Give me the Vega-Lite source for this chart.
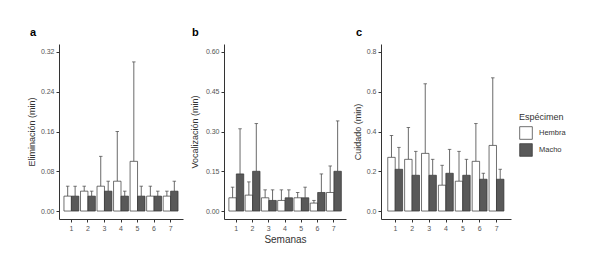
{
  "$schema": "https://vega.github.io/schema/vega-lite/v6.json",
  "autosize": {"type": "pad"},
  "padding": {"left": 27, "top": 27, "right": 0, "bottom": 0},
  "background": "white",
  "config": {
    "view": {"stroke": null},
    "font": "Liberation Sans",
    "axis": {
      "grid": false,
      "domainColor": "#333333",
      "domainWidth": 1,
      "tickColor": "#333333",
      "tickSize": 3,
      "labelFontSize": 7,
      "labelColor": "#555555",
      "labelPadding": 2,
      "titleFontSize": 9,
      "titleFontWeight": "normal",
      "titleColor": "#333333"
    },
    "title": {"fontSize": 11, "fontWeight": "bold", "color": "#000000", "anchor": "start", "frame": "group", "offset": 6}
  },
  "datasets": {
    "d": [
      {"panel": "a", "semana": "1", "especimen": "Hembra", "media": 0.03, "sup": 0.05},
      {"panel": "a", "semana": "1", "especimen": "Macho", "media": 0.03, "sup": 0.05},
      {"panel": "a", "semana": "2", "especimen": "Hembra", "media": 0.04, "sup": 0.05},
      {"panel": "a", "semana": "2", "especimen": "Macho", "media": 0.03, "sup": 0.04},
      {"panel": "a", "semana": "3", "especimen": "Hembra", "media": 0.05, "sup": 0.11},
      {"panel": "a", "semana": "3", "especimen": "Macho", "media": 0.04, "sup": 0.06},
      {"panel": "a", "semana": "4", "especimen": "Hembra", "media": 0.06, "sup": 0.16},
      {"panel": "a", "semana": "4", "especimen": "Macho", "media": 0.03, "sup": 0.04},
      {"panel": "a", "semana": "5", "especimen": "Hembra", "media": 0.10, "sup": 0.30},
      {"panel": "a", "semana": "5", "especimen": "Macho", "media": 0.03, "sup": 0.05},
      {"panel": "a", "semana": "6", "especimen": "Hembra", "media": 0.03, "sup": 0.05},
      {"panel": "a", "semana": "6", "especimen": "Macho", "media": 0.03, "sup": 0.04},
      {"panel": "a", "semana": "7", "especimen": "Hembra", "media": 0.03, "sup": 0.04},
      {"panel": "a", "semana": "7", "especimen": "Macho", "media": 0.04, "sup": 0.06},
      {"panel": "b", "semana": "1", "especimen": "Hembra", "media": 0.05, "sup": 0.09},
      {"panel": "b", "semana": "1", "especimen": "Macho", "media": 0.14, "sup": 0.31},
      {"panel": "b", "semana": "2", "especimen": "Hembra", "media": 0.06, "sup": 0.11},
      {"panel": "b", "semana": "2", "especimen": "Macho", "media": 0.15, "sup": 0.33},
      {"panel": "b", "semana": "3", "especimen": "Hembra", "media": 0.05, "sup": 0.08},
      {"panel": "b", "semana": "3", "especimen": "Macho", "media": 0.04, "sup": 0.08},
      {"panel": "b", "semana": "4", "especimen": "Hembra", "media": 0.04, "sup": 0.08},
      {"panel": "b", "semana": "4", "especimen": "Macho", "media": 0.05, "sup": 0.08},
      {"panel": "b", "semana": "5", "especimen": "Hembra", "media": 0.05, "sup": 0.07},
      {"panel": "b", "semana": "5", "especimen": "Macho", "media": 0.05, "sup": 0.09},
      {"panel": "b", "semana": "6", "especimen": "Hembra", "media": 0.03, "sup": 0.04},
      {"panel": "b", "semana": "6", "especimen": "Macho", "media": 0.07, "sup": 0.14},
      {"panel": "b", "semana": "7", "especimen": "Hembra", "media": 0.07, "sup": 0.17},
      {"panel": "b", "semana": "7", "especimen": "Macho", "media": 0.15, "sup": 0.34},
      {"panel": "c", "semana": "1", "especimen": "Hembra", "media": 0.27, "sup": 0.38},
      {"panel": "c", "semana": "1", "especimen": "Macho", "media": 0.21, "sup": 0.32},
      {"panel": "c", "semana": "2", "especimen": "Hembra", "media": 0.26, "sup": 0.42},
      {"panel": "c", "semana": "2", "especimen": "Macho", "media": 0.18, "sup": 0.30},
      {"panel": "c", "semana": "3", "especimen": "Hembra", "media": 0.29, "sup": 0.64},
      {"panel": "c", "semana": "3", "especimen": "Macho", "media": 0.18, "sup": 0.26},
      {"panel": "c", "semana": "4", "especimen": "Hembra", "media": 0.13, "sup": 0.23},
      {"panel": "c", "semana": "4", "especimen": "Macho", "media": 0.19, "sup": 0.31},
      {"panel": "c", "semana": "5", "especimen": "Hembra", "media": 0.15, "sup": 0.30},
      {"panel": "c", "semana": "5", "especimen": "Macho", "media": 0.18, "sup": 0.26},
      {"panel": "c", "semana": "6", "especimen": "Hembra", "media": 0.25, "sup": 0.44},
      {"panel": "c", "semana": "6", "especimen": "Macho", "media": 0.16, "sup": 0.19},
      {"panel": "c", "semana": "7", "especimen": "Hembra", "media": 0.33, "sup": 0.67},
      {"panel": "c", "semana": "7", "especimen": "Macho", "media": 0.16, "sup": 0.21}
    ]
  },
  "bounds": "flush",
  "spacing": 0,
  "hconcat": [
    {
      "width": 124, "height": 175,
      "title": {"text": "a", "dx": -29},
      "data": {"name": "d"},
      "transform": [{"filter": "datum.panel == 'a'"}],
      "encoding": {
        "x": {"field": "semana", "type": "ordinal", "scale": {"paddingInner": 0.1, "paddingOuter": 0.3}, "axis": {"labelAngle": 0, "title": null}},
        "xOffset": {"field": "especimen", "type": "nominal", "scale": {"paddingInner": 0, "paddingOuter": 0}}
      },
      "layer": [
        {"mark": {"type": "rule", "color": "#444444", "strokeWidth": 0.8},
         "encoding": {"y": {"field": "media", "type": "quantitative"}, "y2": {"field": "sup"}}},
        {"mark": {"type": "bar", "stroke": "#333333", "strokeWidth": 0.7},
         "encoding": {
           "y": {"field": "media", "type": "quantitative", "scale": {"domain": [-0.016, 0.336], "nice": false, "zero": false}, "axis": {"values": [0, 0.08, 0.16, 0.24, 0.32], "format": ".2f", "title": "Eliminación (min)", "titlePadding": 4}},
           "fill": {"field": "especimen", "type": "nominal", "scale": {"domain": ["Hembra", "Macho"], "range": ["#ffffff", "#595959"]},
             "legend": {"title": "Espécimen", "orient": "none", "legendX": 460, "legendY": 69, "symbolType": "square", "symbolSize": 160, "symbolStrokeColor": "#333333", "symbolStrokeWidth": 0.7, "labelFontSize": 7.5, "labelColor": "#333333", "titleFontSize": 9, "titleFontWeight": "normal", "titleColor": "#333333", "rowPadding": 1, "labelOffset": 6, "titlePadding": 4}}
         }},
        {"mark": {"type": "tick", "color": "#444444", "thickness": 1, "size": 3.5, "orient": "horizontal"},
         "encoding": {"y": {"field": "sup", "type": "quantitative"}}}
      ]
    },
    {
      "width": 41, "height": 175,
      "data": {"values": []},
      "mark": "point",
      "encoding": {}
    },
    {
      "width": 122, "height": 175,
      "title": {"text": "b", "dx": -32},
      "data": {"name": "d"},
      "transform": [{"filter": "datum.panel == 'b'"}],
      "encoding": {
        "x": {"field": "semana", "type": "ordinal", "scale": {"paddingInner": 0.1, "paddingOuter": 0.3}, "axis": {"labelAngle": 0, "title": "Semanas", "titleFontSize": 10, "titlePadding": 3}},
        "xOffset": {"field": "especimen", "type": "nominal", "scale": {"paddingInner": 0, "paddingOuter": 0}}
      },
      "layer": [
        {"mark": {"type": "rule", "color": "#444444", "strokeWidth": 0.8},
         "encoding": {"y": {"field": "media", "type": "quantitative"}, "y2": {"field": "sup"}}},
        {"mark": {"type": "bar", "stroke": "#333333", "strokeWidth": 0.7},
         "encoding": {
           "y": {"field": "media", "type": "quantitative", "scale": {"domain": [-0.03, 0.63], "nice": false, "zero": false}, "axis": {"values": [0, 0.15, 0.3, 0.45, 0.6], "format": ".2f", "title": "Vocalización (min)", "titlePadding": 6}},
           "fill": {"field": "especimen", "type": "nominal"}
         }},
        {"mark": {"type": "tick", "color": "#444444", "thickness": 1, "size": 3.5, "orient": "horizontal"},
         "encoding": {"y": {"field": "sup", "type": "quantitative"}}}
      ]
    },
    {
      "width": 35, "height": 175,
      "data": {"values": []},
      "mark": "point",
      "encoding": {}
    },
    {
      "width": 130, "height": 175,
      "title": {"text": "c", "dx": -25},
      "data": {"name": "d"},
      "transform": [{"filter": "datum.panel == 'c'"}],
      "encoding": {
        "x": {"field": "semana", "type": "ordinal", "scale": {"paddingInner": 0.1, "paddingOuter": 0.4}, "axis": {"labelAngle": 0, "title": null}},
        "xOffset": {"field": "especimen", "type": "nominal", "scale": {"paddingInner": 0, "paddingOuter": 0}}
      },
      "layer": [
        {"mark": {"type": "rule", "color": "#444444", "strokeWidth": 0.8},
         "encoding": {"y": {"field": "media", "type": "quantitative"}, "y2": {"field": "sup"}}},
        {"mark": {"type": "bar", "stroke": "#333333", "strokeWidth": 0.7},
         "encoding": {
           "y": {"field": "media", "type": "quantitative", "scale": {"domain": [-0.04, 0.84], "nice": false, "zero": false}, "axis": {"values": [0, 0.2, 0.4, 0.6, 0.8], "format": ".1f", "title": "Cuidado (min)", "titlePadding": 4}},
           "fill": {"field": "especimen", "type": "nominal"}
         }},
        {"mark": {"type": "tick", "color": "#444444", "thickness": 1, "size": 3.5, "orient": "horizontal"},
         "encoding": {"y": {"field": "sup", "type": "quantitative"}}}
      ]
    }
  ]
}
